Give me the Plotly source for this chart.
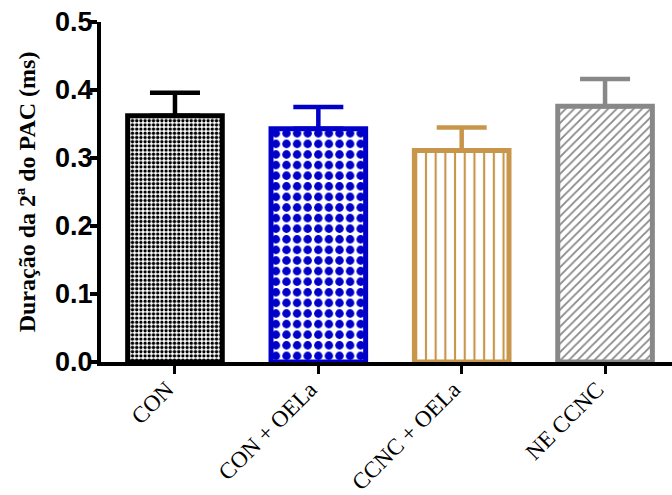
import plotly.graph_objects as go

# Group labels, mean duration (ms) and upper SEM
groups = ["CON", "CON + OELa", "CCNC + OELa", "NE CCNC"]
means = [0.362, 0.343, 0.311, 0.376]
sems = [0.034, 0.032, 0.034, 0.040]

# Per-group styling: outline/pattern colour, pattern shape, size, solidity
colors = ["#000000", "#0000C8", "#C8964B", "#888888"]
shapes = [".", ".", "|", "/"]
psizes = [4.2, 10.6, 9.7, 6.0]
solids = [0.5, 0.5, 0.22, 0.3]

# Rotated category labels, padded at the end so they sit below-left of the ticks
pad = "\u00a0\u00a0"
labels = [g + pad for g in groups]

fig = go.Figure()
for g, m, e, c, sh, ps, so in zip(groups, means, sems, colors, shapes, psizes, solids):
    fig.add_trace(go.Bar(
        x=[g], y=[m], width=0.66,
        marker=dict(
            color="white",
            line=dict(color=c, width=5),
            pattern=dict(shape=sh, fgcolor=c, bgcolor="white", fgopacity=1,
                         size=ps, solidity=so, fillmode="replace"),
        ),
        error_y=dict(type="data", symmetric=False, array=[e], arrayminus=[0],
                     color=c, thickness=4.5, width=25),
        showlegend=False,
    ))

fig.update_layout(
    width=672, height=495,
    margin=dict(l=101, r=0, t=22, b=133),
    paper_bgcolor="white", plot_bgcolor="white",
    barmode="overlay",
    xaxis=dict(
        range=[-0.516, 3.467], automargin=False,
        tickmode="array", tickvals=groups, ticktext=labels,
        showline=True, linecolor="black", linewidth=3.5,
        ticks="outside", ticklen=8, tickwidth=3, tickcolor="black",
        tickangle=-45, ticklabelstandoff=-15,
        tickfont=dict(family="Liberation Serif", size=23, color="black"),
        showgrid=False, zeroline=False,
    ),
    yaxis=dict(
        range=[0, 0.5], dtick=0.1, tickformat=".1f", automargin=False,
        showline=True, linecolor="black", linewidth=4,
        ticks="outside", ticklen=7, tickwidth=4, tickcolor="black",
        ticklabelstandoff=-8,
        tickfont=dict(family="Liberation Sans", size=27, color="black", weight="bold"),
        title=dict(text="Duração da 2ª do PAC (ms)", standoff=14,
                   font=dict(family="Liberation Serif", size=24, color="black", weight="bold")),
        showgrid=False, zeroline=False,
    ),
)

fig.write_html("out.html")
